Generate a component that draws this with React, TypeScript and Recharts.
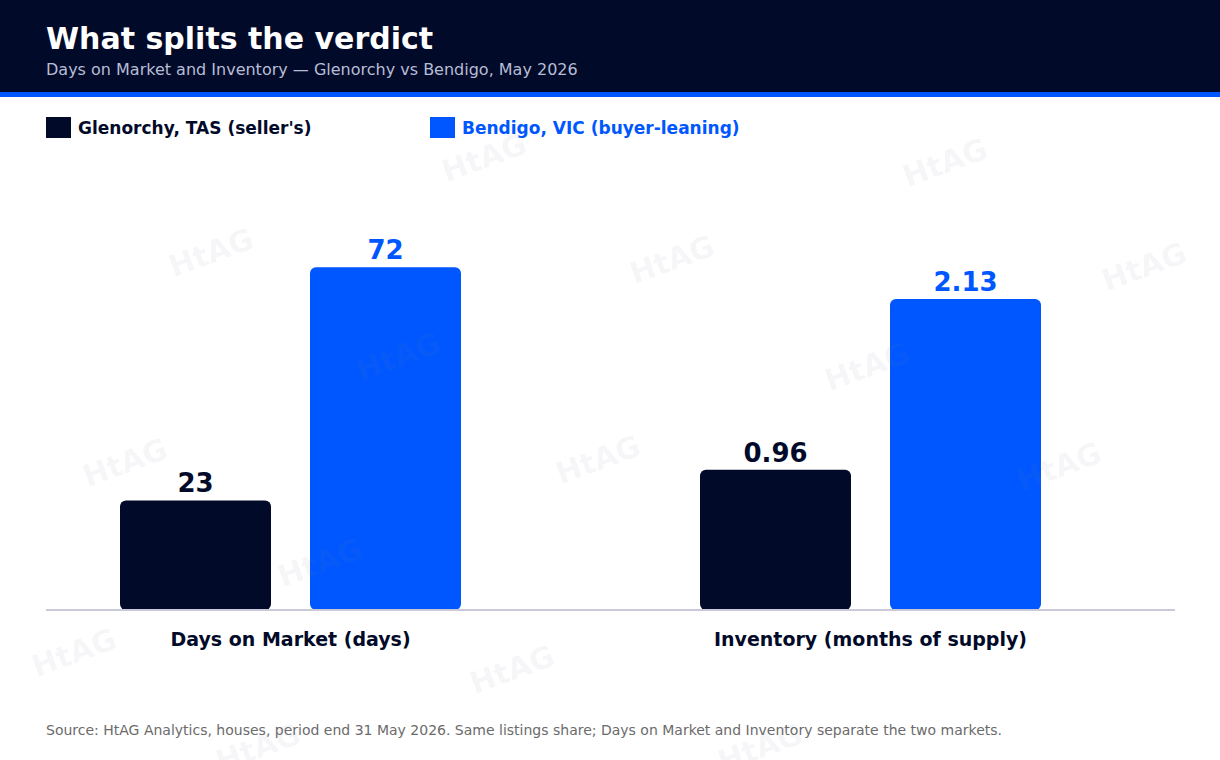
import React from 'react';
import { BarChart, Bar, XAxis, YAxis, LabelList } from 'recharts';

// palette + type
const NAVY = '#020a29';
const BLUE = '#0057ff';
const FONT = '"DejaVu Sans", Verdana, sans-serif';

// data
const seriesNames = ["Glenorchy, TAS (seller's)", 'Bendigo, VIC (buyer-leaning)'];
const metrics = ['Days on Market (days)', 'Inventory (months of supply)'];
const glenorchyValues = [23, 0.96];
const bendigoValues = [72, 2.13];
const axisMax = [84, 2.74];
const valueDecimals = [0, 2];

// each metric gets its own panel (own scale), side by side on one baseline
const panels = [
    { left: 46, width: 534, padRight: 45 },
    { left: 580, width: 595, padRight: 14 },
];

// the last two sit on the bottom edge and are cut off there, as in the reference
const watermarks = [
    [211, 253], [484, 158], [672, 260], [945, 163], [1144, 267],
    [398, 357], [867, 367], [125, 463], [598, 460], [1059, 467],
    [320, 563], [74, 653], [512, 670], [258, 748], [760, 748],
];

const MetricPanel: React.FC<{ index: number }> = ({ index }) => {
    const p = panels[index];
    const data = [
        {
            metric: metrics[index],
            glenorchy: glenorchyValues[index],
            bendigo: bendigoValues[index],
        },
    ];
    const fmt = (v: any) => Number(v).toFixed(valueDecimals[index]);
    const labelStyle = { fontSize: 26, fontWeight: 700, fontFamily: FONT };

    return (
        <div style={{ position: 'absolute', left: p.left, top: 150 }}>
            <BarChart
                width={p.width}
                height={520}
                data={data}
                margin={{ top: 60, right: 0, bottom: 0, left: 0 }}
                barGap={39}
            >
                <XAxis
                    dataKey="metric"
                    height={60}
                    padding={{ left: 0, right: p.padRight }}
                    axisLine={{ stroke: '#c9c9da', strokeWidth: 2 }}
                    tickLine={false}
                    tickSize={0}
                    tickMargin={23}
                    tick={{ fill: NAVY, fontSize: 19, fontWeight: 700, fontFamily: FONT }}
                />
                <YAxis hide domain={[0, axisMax[index]]} />
                <Bar dataKey="glenorchy" fill={NAVY} barSize={151} radius={6} isAnimationActive={false}>
                    <LabelList dataKey="glenorchy" position="top" offset={8} fill={NAVY} formatter={fmt} style={labelStyle} />
                </Bar>
                <Bar dataKey="bendigo" fill={BLUE} barSize={151} radius={6} isAnimationActive={false}>
                    <LabelList dataKey="bendigo" position="top" offset={8} fill={BLUE} formatter={fmt} style={labelStyle} />
                </Bar>
            </BarChart>
        </div>
    );
};

export default function App() {
    return (
        <div
            style={{
                position: 'relative',
                width: 1220,
                height: 760,
                background: '#ffffff',
                overflow: 'hidden',
                fontFamily: FONT,
            }}
        >
            <style>{'body{margin:0;}'}</style>

            {/* header band */}
            <div style={{ position: 'absolute', left: 0, top: 0, width: 1220, height: 92, background: NAVY }} />
            <div style={{ position: 'absolute', left: 0, top: 92, width: 1220, height: 5, background: BLUE }} />
            <div
                style={{
                    position: 'absolute',
                    left: 46,
                    top: 21,
                    color: '#ffffff',
                    fontSize: 30,
                    fontWeight: 700,
                    lineHeight: '36px',
                    whiteSpace: 'nowrap',
                }}
            >
                What splits the verdict
            </div>
            <div
                style={{
                    position: 'absolute',
                    left: 46,
                    top: 60,
                    color: '#b7bdd6',
                    fontSize: 16,
                    lineHeight: '20px',
                    whiteSpace: 'nowrap',
                }}
            >
                Days on Market and Inventory — Glenorchy vs Bendigo, May 2026
            </div>

            {/* legend */}
            {seriesNames.map((name, i) => (
                <div
                    key={name}
                    style={{
                        position: 'absolute',
                        left: i === 0 ? 46 : 430,
                        top: 117,
                        display: 'flex',
                        alignItems: 'center',
                        whiteSpace: 'nowrap',
                    }}
                >
                    <div style={{ width: 25, height: 21, background: i === 0 ? NAVY : BLUE, marginRight: 7 }} />
                    <span style={{ fontSize: 17, fontWeight: 700, color: i === 0 ? NAVY : BLUE }}>{name}</span>
                </div>
            ))}

            {metrics.map((m, i) => (
                <MetricPanel key={m} index={i} />
            ))}

            {/* faint watermarks */}
            {watermarks.map(([x, y], i) => (
                <div
                    key={i}
                    style={{
                        position: 'absolute',
                        left: x - 50,
                        top: y - 18,
                        width: 100,
                        textAlign: 'center',
                        fontSize: 30,
                        fontWeight: 700,
                        color: 'rgba(120, 125, 145, 0.07)',
                        transform: 'rotate(-20deg)',
                        pointerEvents: 'none',
                        whiteSpace: 'nowrap',
                    }}
                >
                    HtAG
                </div>
            ))}

            <div
                style={{
                    position: 'absolute',
                    left: 46,
                    top: 721,
                    fontSize: 14,
                    color: '#6b6b6b',
                    lineHeight: '18px',
                    whiteSpace: 'nowrap',
                }}
            >
                Source: HtAG Analytics, houses, period end 31 May 2026. Same listings share; Days on Market and Inventory separate the two markets.
            </div>
        </div>
    );
}
